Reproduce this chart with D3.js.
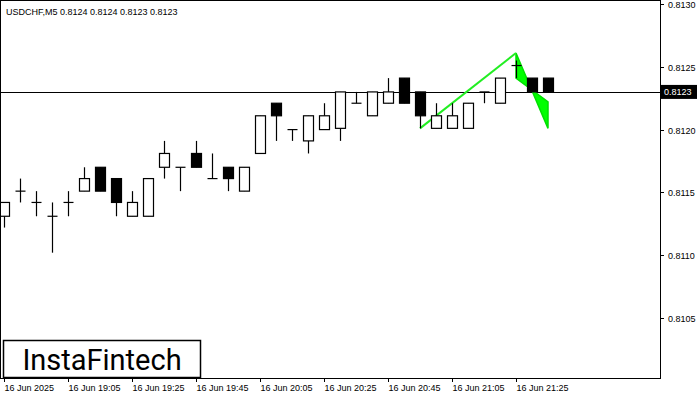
<!DOCTYPE html>
<html><head><meta charset="utf-8">
<script src="https://cdn.jsdelivr.net/npm/d3@7"></script>
<style>body{margin:0;background:#fff}svg{display:block}</style>
</head><body><svg id="c" width="700" height="400"></svg>
<script>
const opens  = [.81131,.81151,.81142,.81131,.81142,.81151,.81170,.81161,.81131,.81131,.81170,.81170,.81181,.81161,.81170,.81151,.81181,.81221,.81200,.81191,.81200,.81201,.81221,.81211,.81221,.81241,.81230,.81201,.81201,.81201,.81230,.81221,.81251,.81241,.81241];
const closes = [.81142,.81151,.81142,.81131,.81142,.81161,.81151,.81142,.81142,.81161,.81181,.81170,.81170,.81161,.81161,.81170,.81211,.81211,.81200,.81211,.81211,.81230,.81221,.81230,.81230,.81221,.81211,.81211,.81211,.81221,.81230,.81241,.81251,.81230,.81230];
const highs  = [.81142,.81161,.81151,.81142,.81151,.81170,.81170,.81161,.81151,.81161,.81191,.81170,.81191,.81181,.81170,.81170,.81211,.81221,.81200,.81211,.81221,.81230,.81230,.81230,.81241,.81241,.81230,.81221,.81221,.81221,.81230,.81241,.81255,.81241,.81241];
const lows   = [.81122,.81142,.81131,.81102,.81131,.81151,.81151,.81131,.81131,.81131,.81161,.81151,.81170,.81161,.81151,.81151,.81181,.81191,.81191,.81181,.81200,.81191,.81221,.81211,.81221,.81221,.81201,.81201,.81201,.81201,.81221,.81221,.81241,.81230,.81230];
const priceTicks = [0.8130,0.8125,0.8120,0.8115,0.8110,0.8105];
const timeTickIdx = [0,4,8,12,16,20,24,28,32];
const timeLabels = ["16 Jun 2025","16 Jun 19:05","16 Jun 19:25","16 Jun 19:45","16 Jun 20:05","16 Jun 20:25","16 Jun 20:45","16 Jun 21:05","16 Jun 21:25"];
const patternLine = [[26,0.81201],[32,0.81261]];
const flag = [[32,0.81261],[34,0.81201],[34,0.81222],[32,0.81241]];
const currentPrice = 0.8123;

const svg = d3.select("#c");
const W=660,H=378;
const x = d3.scaleLinear().domain([0,1]).range([4,20]);
const y = d3.scaleLinear().domain([0.8130,0.8120]).range([4,129.6]);
const font="Liberation Sans, Arial, sans-serif";

svg.append("rect").attr("x",0.5).attr("y",0.5).attr("width",W).attr("height",H).attr("fill","none").attr("stroke","#000");
svg.append("clipPath").attr("id","cp").append("rect").attr("x",1).attr("y",1).attr("width",W-1).attr("height",H-1);
const g = svg.append("g").attr("clip-path","url(#cp)");

g.append("line").attr("x1",0).attr("x2",W).attr("y1",Math.round(y(currentPrice))+0.5).attr("y2",Math.round(y(currentPrice))+0.5).attr("stroke","#000");

// pattern (behind candles)
g.append("polygon").attr("points",flag.map(d=>[x(d[0]),y(d[1])].join(",")).join(" ")).attr("fill","#00ff00").attr("stroke","#00e000").attr("stroke-width",1.5);
g.append("line").attr("x1",x(patternLine[0][0])).attr("y1",y(patternLine[0][1])).attr("x2",x(patternLine[1][0])).attr("y2",y(patternLine[1][1])).attr("stroke","#22ee22").attr("stroke-width",2);

opens.forEach((o,i)=>{
  const cx=Math.round(x(i))+0.5, c=closes[i];
  g.append("line").attr("x1",cx).attr("x2",cx).attr("y1",y(highs[i])).attr("y2",y(lows[i])).attr("stroke","#000").attr("stroke-width",1.2);
  const top=y(Math.max(o,c)), bot=y(Math.min(o,c));
  if (Math.abs(bot-top)<1) {
    g.append("line").attr("x1",cx-5).attr("x2",cx+5).attr("y1",top).attr("y2",top).attr("stroke","#000").attr("stroke-width",1.2);
  } else {
    g.append("rect").attr("x",cx-5).attr("y",top).attr("width",10).attr("height",bot-top)
      .attr("fill",c>=o?"#fff":"#000").attr("stroke","#000").attr("stroke-width",1.2);
  }
});

priceTicks.forEach(p=>{
  const yy=Math.round(y(p))+0.5;
  svg.append("line").attr("x1",W).attr("x2",W+4).attr("y1",yy).attr("y2",yy).attr("stroke","#000");
  svg.append("text").attr("x",668).attr("y",yy+3).attr("font-family",font).attr("font-size",9).text(p.toFixed(4));
});
timeTickIdx.forEach((t,k)=>{
  const xx=Math.round(x(t))+0.5;
  svg.append("line").attr("x1",xx).attr("x2",xx).attr("y1",H).attr("y2",H+4).attr("stroke","#000");
  svg.append("text").attr("x",xx).attr("y",391).attr("font-family",font).attr("font-size",9).text(timeLabels[k]);
});
const cy=y(currentPrice);
svg.append("rect").attr("x",661).attr("y",cy-7).attr("width",36).attr("height",14).attr("fill","#000");
svg.append("text").attr("x",664).attr("y",cy+3.5).attr("fill","#fff").attr("font-family",font).attr("font-size",9).text(currentPrice.toFixed(4));

svg.append("text").attr("x",6).attr("y",15).attr("font-family",font).attr("font-size",9).text("USDCHF,M5  0.8124 0.8124 0.8123 0.8123");
svg.append("rect").attr("x",3.5).attr("y",340.5).attr("width",197).attr("height",37).attr("fill","#fff").attr("stroke","#000").attr("stroke-width",1.5);
svg.append("text").attr("x",102).attr("y",370).attr("text-anchor","middle").attr("font-family","Roboto, sans-serif").attr("font-size",29).text("InstaFintech");
</script></body></html>
